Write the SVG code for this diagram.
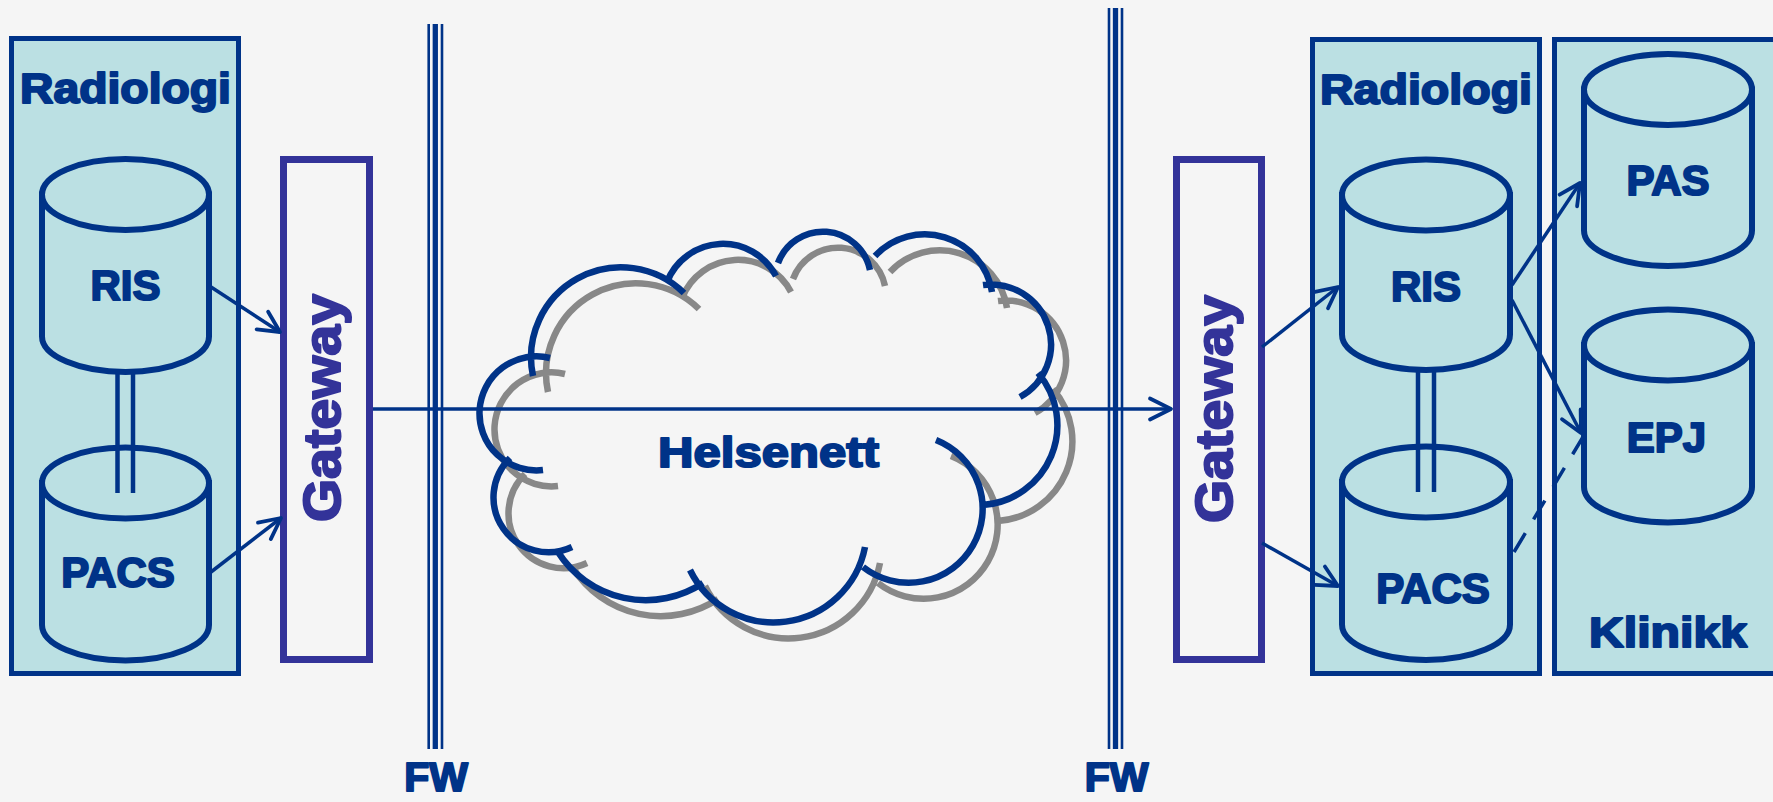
<svg xmlns="http://www.w3.org/2000/svg" width="1773" height="802" viewBox="0 0 1773 802">
<defs>
<style>
.box{fill:#BBE0E3;stroke:#003388;stroke-width:5}
.cyl{fill:#BBE0E3;stroke:#003388;stroke-width:6}
.gw{fill:none;stroke:#333399;stroke-width:7}
.t{font-family:"Liberation Sans",Arial,sans-serif;font-weight:bold;fill:#003388;stroke:#003388;stroke-width:2;paint-order:stroke;stroke-linejoin:round;font-size:42px;text-anchor:middle}
.gt{fill:#333399;stroke:#333399;font-size:52px}
.conn{stroke:#003388;stroke-width:3.5;fill:none}
.dbl{stroke:#003388;stroke-width:4.5;fill:none}
.fwthin{stroke:#003388;stroke-width:2.6}
.fwthick{stroke:#003388;stroke-width:5.3}
.cloud{fill:none;stroke-width:6.5;stroke-linecap:butt}
</style>
<marker id="arr" markerUnits="userSpaceOnUse" markerWidth="30" markerHeight="30" viewBox="-25 -15 30 30" refX="0" refY="0" orient="auto">
<path d="M-21,-10.5 L0,0 L-21,10.5" fill="none" stroke="#003388" stroke-width="3.8" stroke-linecap="round" stroke-linejoin="round"/>
</marker>
<path id="cloudpath" d="M543,470 A57,57 0 1 1 550,358 M533,376 A90,90 0 0 1 684,293 M667,282 A60,60 0 0 1 776,276 M778,263 A48,48 0 0 1 870,270 M875,256 A68,68 0 0 1 992,292 M983,285 A60,60 0 0 1 1020,397 M1038,373 A80,80 0 0 1 983,505 M936,440 A74,74 0 1 1 863,567 M865,547 A93,93 0 0 1 690,570 M703,583 A104,104 0 0 1 558,552 M572,547 A55,55 0 0 1 510,458"/>
</defs>
<rect x="0" y="0" width="1773" height="802" fill="#F5F5F5"/>

<g id="radiologi-left">
<rect class="box" x="11.5" y="38.5" width="227" height="635"/>
<text class="t" x="125.5" y="103" textLength="211" lengthAdjust="spacingAndGlyphs">Radiologi</text>
</g>
<g id="ris-left">
<path class="cyl" d="M42,194.5 L42,336.5 A83.5,35.5 0 0 0 209,336.5 L209,194.5 Z"/>
<ellipse class="cyl" cx="125.5" cy="194.5" rx="83.5" ry="35.5"/>
<text class="t" x="125.5" y="300">RIS</text>
</g>
<g id="pacs-left">
<path class="cyl" d="M42,483 L42,625 A83.5,35.5 0 0 0 209,625 L209,483 Z"/>
<ellipse class="cyl" cx="125.5" cy="483" rx="83.5" ry="35.5"/>
<text class="t" x="118" y="587">PACS</text>
</g>
<g id="gateway-left">
<rect class="gw" x="283.5" y="159.5" width="86" height="500" fill="#F5F5F5"/>
<text class="t gt" transform="translate(340,408) rotate(-90)" textLength="228" lengthAdjust="spacingAndGlyphs">Gateway</text>
</g>
<g id="fw-left">
<line class="fwthin" x1="428.7" y1="24" x2="428.7" y2="749"/>
<line class="fwthick" x1="435.3" y1="24" x2="435.3" y2="749"/>
<line class="fwthin" x1="442" y1="24" x2="442" y2="749"/>
<text class="t" x="436" y="791" style="font-size:41px">FW</text>
</g>
<g id="helsenett">
<use href="#cloudpath" class="cloud" stroke="#888888" transform="translate(15,16)"/>
<use href="#cloudpath" class="cloud" stroke="#003388"/>
<text class="t" x="768.5" y="467" textLength="221" lengthAdjust="spacingAndGlyphs" style="font-size:43px">Helsenett</text>
</g>
<g id="fw-right">
<line class="fwthin" x1="1109" y1="8" x2="1109" y2="749"/>
<line class="fwthick" x1="1115.5" y1="8" x2="1115.5" y2="749"/>
<line class="fwthin" x1="1122" y1="8" x2="1122" y2="749"/>
<text class="t" x="1116.5" y="791" style="font-size:41px">FW</text>
</g>
<g id="gateway-right">
<rect class="gw" x="1176.5" y="159.5" width="85" height="500" fill="#F5F5F5"/>
<text class="t gt" transform="translate(1232,409) rotate(-90)" textLength="228" lengthAdjust="spacingAndGlyphs">Gateway</text>
</g>
<g id="radiologi-right">
<rect class="box" x="1312.5" y="39.5" width="227" height="634"/>
<text class="t" x="1426" y="104" textLength="212" lengthAdjust="spacingAndGlyphs">Radiologi</text>
</g>
<g id="klinikk">
<rect class="box" x="1554.5" y="39.5" width="260" height="634"/>
<text class="t" x="1668" y="647" textLength="158" lengthAdjust="spacingAndGlyphs">Klinikk</text>
</g>
<g id="ris-right">
<path class="cyl" d="M1342,195 L1342,334.5 A84,35.5 0 0 0 1510,334.5 L1510,195 Z"/>
<ellipse class="cyl" cx="1426" cy="195" rx="84" ry="35.5"/>
<text class="t" x="1426" y="301">RIS</text>
</g>
<g id="pacs-right">
<path class="cyl" d="M1342,482 L1342,624.5 A84,35.5 0 0 0 1510,624.5 L1510,482 Z"/>
<ellipse class="cyl" cx="1426" cy="482" rx="84" ry="35.5"/>
<text class="t" x="1433" y="603">PACS</text>
</g>
<g id="pas">
<path class="cyl" d="M1584,89.5 L1584,230.5 A84,35.5 0 0 0 1752,230.5 L1752,89.5 Z"/>
<ellipse class="cyl" cx="1668" cy="89.5" rx="84" ry="35.5"/>
<text class="t" x="1668" y="195">PAS</text>
</g>
<g id="epj">
<path class="cyl" d="M1584,345 L1584,487 A84,35.5 0 0 0 1752,487 L1752,345 Z"/>
<ellipse class="cyl" cx="1668" cy="345" rx="84" ry="35.5"/>
<text class="t" x="1666.5" y="452">EPJ</text>
</g>

<g id="connectors">
<line class="dbl" x1="117.5" y1="372" x2="117.5" y2="493"/>
<line class="dbl" x1="133" y1="372" x2="133" y2="493"/>
<line class="dbl" x1="1418" y1="370" x2="1418" y2="492"/>
<line class="dbl" x1="1434" y1="370" x2="1434" y2="492"/>
<line class="conn" x1="211" y1="287" x2="280" y2="332" marker-end="url(#arr)"/>
<line class="conn" x1="211" y1="572" x2="281" y2="518" marker-end="url(#arr)"/>
<line class="conn" x1="373" y1="409" x2="1171" y2="409" marker-end="url(#arr)"/>
<line class="conn" x1="1262" y1="347" x2="1338" y2="287" marker-end="url(#arr)"/>
<line class="conn" x1="1262" y1="543" x2="1338" y2="586" marker-end="url(#arr)"/>
<line class="conn" x1="1512" y1="285" x2="1580" y2="183" marker-end="url(#arr)"/>
<line class="conn" x1="1512" y1="300" x2="1581" y2="433" marker-end="url(#arr)"/>
<line class="conn" x1="1514" y1="552" x2="1583" y2="437" stroke-dasharray="22 16"/>
</g>
</svg>
